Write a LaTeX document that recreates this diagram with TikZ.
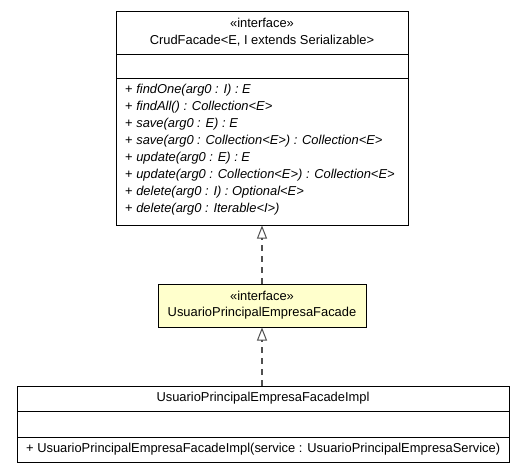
\documentclass[tikz,border=0pt]{standalone}
\usepackage{fontspec}
\setmainfont{Liberation Sans}
\usetikzlibrary{arrows.meta}
\definecolor{ifacefill}{RGB}{255,255,204}
\definecolor{linkgray}{RGB}{80,80,80}
\tikzset{
  classbox/.style={draw=black,line width=1pt,inner sep=0pt},
  label/.style={font=\fontsize{12.9}{15}\selectfont,inner sep=0pt},
  member/.style={label,anchor=west},
  realize/.style={draw=linkgray,line width=1.2pt,dash pattern=on 6pt off 5pt,
    -{Triangle[open,length=13pt,width=10pt,line width=1pt]}}
}
\begin{document}
\begin{tikzpicture}[x=1pt,y=-1pt]
        \useasboundingbox (0,0) rectangle (524,472);
        %% CrudFacade
        \node[classbox,minimum width=292pt,minimum height=214pt] (crud) at (262,118) {};
        \draw[line width=1pt] (116,54) -- (408,54);
        \draw[line width=1pt] (116,78) -- (408,78);
        \node[label] (crudst) at (262,23) {«interface»};
        \node[label] (crudname) at (262,41) {CrudFacade<E, I extends Serializable>};
        \foreach \m [count=\i from 0] in {%
            {findOne(arg0 : I) : E},
            {findAll() : Collection<E>},
            {save(arg0 : E) : E},
            {save(arg0 : Collection<E>) : Collection<E>},
            {update(arg0 : E) : E},
            {update(arg0 : Collection<E>) : Collection<E>},
            {delete(arg0 : I) : Optional<E>},
            {delete(arg0 : Iterable<I>)}}
          \node[member] (op\i) at (125,90+\i*17) {+ \textit{\m}};
        %% UsuarioPrincipalEmpresaFacade
        \node[classbox,fill=ifacefill,minimum width=208pt,minimum height=43pt] (facade) at (262,305.5) {};
        \node[label] (facst) at (262,296) {«interface»};
        \node[label] (facname) at (262,313) {UsuarioPrincipalEmpresaFacade};
        %% UsuarioPrincipalEmpresaFacadeImpl
        \node[classbox,minimum width=492pt,minimum height=76pt] (impl) at (263,424) {};
        \draw[line width=1pt] (17,411) -- (509,411);
        \draw[line width=1pt] (17,437) -- (509,437);
        \node[label] (implname) at (263,398) {UsuarioPrincipalEmpresaFacadeImpl};
        \node[member] (ctor) at (26,449) {+ UsuarioPrincipalEmpresaFacadeImpl(service : UsuarioPrincipalEmpresaService)};
        %% realizations
        \draw[realize] (facade.north) -- (crud.south);
        \draw[realize] (impl.north -| facade.south) -- (facade.south);
\end{tikzpicture}
\end{document}
